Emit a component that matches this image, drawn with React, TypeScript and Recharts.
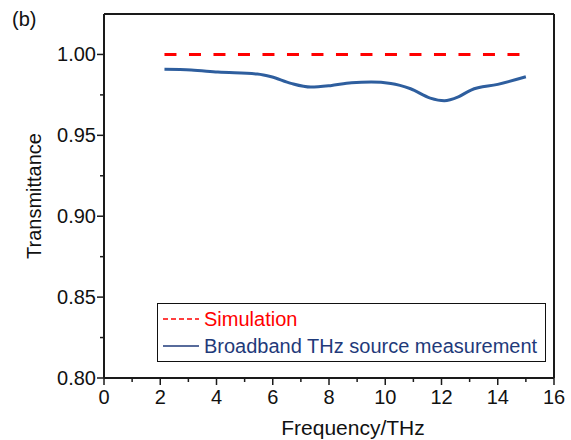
import React from 'react';
import {
  LineChart,
  Line,
  XAxis,
  YAxis,
  ReferenceLine,
} from 'recharts';

const frequency = [2.15, 3.1, 4.05, 5.45, 5.95, 6.65, 7.35, 8.05, 8.8, 9.5, 10.2, 10.9, 11.6, 12.1, 12.6, 13.05, 14.0, 15.0];
const simulation = [1.0, 1.0, 1.0, 1.0, 1.0, 1.0, 1.0, 1.0, 1.0, 1.0, 1.0, 1.0, 1.0, 1.0, 1.0, 1.0, 1.0, 1.0];
const measurement = [0.9908, 0.9904, 0.9891, 0.9879, 0.9862, 0.9821, 0.9798, 0.9807, 0.9825, 0.9829, 0.9821, 0.9788, 0.973, 0.9714, 0.9738, 0.978, 0.9815, 0.9862];

const xTicks = [0, 1, 2, 3, 4, 5, 6, 7, 8, 9, 10, 11, 12, 13, 14, 15, 16];
const yTicks = [0.8, 0.825, 0.85, 0.875, 0.9, 0.925, 0.95, 0.975, 1.0];

const data = frequency.map((f, i) => ({ f, sim: simulation[i], meas: measurement[i] }));

const FONT = '"Liberation Sans", Arial, sans-serif';
const AXIS = '#1a1a1a';

const XTick = (props: any) => {
  const { x, y, payload } = props;
  const major = payload.value % 2 === 0;
  return (
    <g>
      <line x1={x} x2={x} y1={y} y2={y + (major ? 7 : 4)} stroke={AXIS} strokeWidth={1.5} />
      {major && (
        <text x={x} y={y + 26} textAnchor="middle" fontSize={20} fontFamily={FONT} fill="#111">
          {payload.value}
        </text>
      )}
    </g>
  );
};

const YTick = (props: any) => {
  const { x, y, payload } = props;
  const v = payload.value;
  const major = Math.abs(v * 20 - Math.round(v * 20)) < 1e-6;
  return (
    <g>
      <line x1={x} x2={x - (major ? 7 : 4)} y1={y} y2={y} stroke={AXIS} strokeWidth={1.5} />
      {major && (
        <text x={x - 8} y={y} dy="0.35em" textAnchor="end" fontSize={20} fontFamily={FONT} fill="#111">
          {v.toFixed(2)}
        </text>
      )}
    </g>
  );
};

const LegendBox = () => (
  <div
    style={{
      position: 'absolute',
      left: 157,
      top: 303,
      border: '1.5px solid #111',
      width: 389,
      height: 59,
      background: '#fff',
      fontFamily: FONT,
      fontSize: 20,
      boxSizing: 'border-box',
    }}
  >
    <div style={{ display: 'flex', alignItems: 'center', height: 28, paddingLeft: 5, paddingTop: 1 }}>
      <svg width={36} height={6}>
        <line x1={0} x2={36} y1={3} y2={3} stroke="#ff0000" strokeWidth={1.5} strokeDasharray="5 3" />
      </svg>
      <span style={{ color: '#ff0000', marginLeft: 5 }}>Simulation</span>
    </div>
    <div style={{ display: 'flex', alignItems: 'center', height: 26, paddingLeft: 5 }}>
      <svg width={36} height={6}>
        <line x1={0} x2={36} y1={3} y2={3} stroke="#1f3a7a" strokeWidth={1.5} />
      </svg>
      <span style={{ color: '#1f3a7a', marginLeft: 5 }}>Broadband THz source measurement</span>
    </div>
  </div>
);

export default function App() {
  return (
    <div style={{ position: 'absolute', left: 0, top: 0, width: 571, height: 440, background: '#fff' }}>
      <div style={{ position: 'absolute', left: 12, top: 8, fontFamily: FONT, fontSize: 20, color: '#111' }}>(b)</div>
      <LineChart width={571} height={440} data={data} margin={{ top: 14, right: 17, bottom: 0, left: 0 }}>
        <XAxis
          dataKey="f"
          type="number"
          domain={[0, 16]}
          ticks={xTicks}
          interval={0}
          height={62}
          tickSize={0}
          tickMargin={0}
          tickLine={false}
          tick={<XTick />}
          axisLine={{ stroke: AXIS, strokeWidth: 2 }}
          label={{
            content: (p: any) => (
              <text
                x={p.viewBox.x + p.viewBox.width / 2 + 24}
                y={435}
                textAnchor="middle"
                fontSize={21}
                fontFamily={FONT}
                fill="#111"
              >
                Frequency/THz
              </text>
            ),
          }}
        />
        <YAxis
          type="number"
          domain={[0.8, 1.025]}
          allowDataOverflow
          ticks={yTicks}
          interval={0}
          width={104}
          tickSize={0}
          tickMargin={0}
          tickLine={false}
          tick={<YTick />}
          axisLine={{ stroke: AXIS, strokeWidth: 2 }}
          label={{
            content: (p: any) => {
              const cy = p.viewBox.y + p.viewBox.height / 2;
              return (
                <text
                  x={41}
                  y={cy}
                  transform={`rotate(-90, 41, ${cy})`}
                  textAnchor="middle"
                  fontSize={20}
                  fontFamily={FONT}
                  fill="#111"
                >
                  Transmittance
                </text>
              );
            },
          }}
        />
        <ReferenceLine y={1.025} stroke={AXIS} strokeWidth={2} />
        <ReferenceLine x={16} stroke={AXIS} strokeWidth={2} />
        <Line
          dataKey="sim"
          name="Simulation"
          type="linear"
          stroke="#ff0000"
          strokeWidth={3}
          strokeDasharray="12 12.5"
          dot={false}
          isAnimationActive={false}
        />
        <Line
          dataKey="meas"
          name="Broadband THz source measurement"
          type="monotone"
          stroke="#2e5e9e"
          strokeWidth={3}
          dot={false}
          isAnimationActive={false}
        />
      </LineChart>
      <LegendBox />
    </div>
  );
}
